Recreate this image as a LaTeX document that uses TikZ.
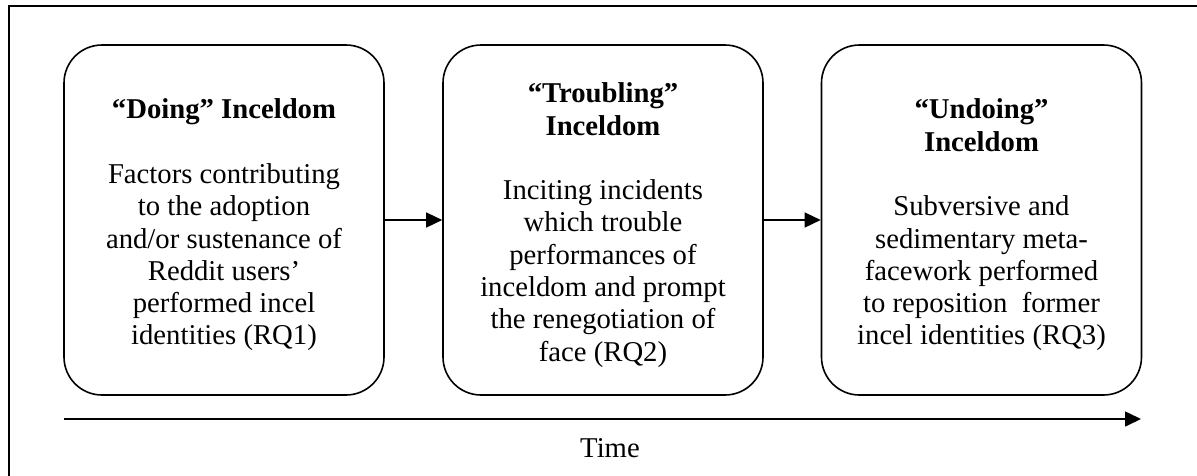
\documentclass[tikz,border=0pt]{standalone}
\usepackage{fontspec}
\setmainfont{Liberation Serif}
\usetikzlibrary{arrows.meta}
\tikzset{
  stage/.style={draw, line width=1.6pt, rounded corners=38pt, minimum width=320pt, minimum height=350pt, inner sep=0pt},
  stagetext/.style={align=center, inner sep=0pt, font=\fontsize{28.7pt}{32.3pt}\selectfont},
  flow/.style={line width=1.4pt, -{Triangle[length=16pt,width=15pt]}},
  frame/.style={line width=2pt}
}
\begin{document}
\begin{tikzpicture}[x=1pt,y=-1pt]
\useasboundingbox (0,0) rectangle (1197,475);
\draw[frame] (9,6) rectangle (1220,500);
\node[stage] (b1) at (224,220) {};
\node[stage] (b2) at (603,220) {};
\node[stage] (b3) at (981.5,220) {};
\node[stagetext] (t1) at (224,225) {\textbf{“Doing” Inceldom}\\[32.3pt]Factors contributing\\to the adoption\\and/or sustenance of\\Reddit users’\\performed incel\\identities (RQ1)};
\node[stagetext] (t2) at (603,225) {\textbf{“Troubling”}\\\textbf{Inceldom}\\[32.3pt]Inciting incidents\\which trouble\\performances of\\inceldom and prompt\\the renegotiation of\\face (RQ2)};
\node[stagetext] (t3) at (981.5,225) {\textbf{“Undoing”}\\\textbf{Inceldom}\\[32.3pt]Subversive and\\sedimentary meta-\\facework performed\\to reposition\ \ former\\incel identities (RQ3)};
\draw[flow] (b1.east) -- (b2.west);
\draw[flow] (b2.east) -- (b3.west);
\coordinate (ta) at (64,419);
\coordinate (tb) at (1141,419);
\draw[flow, line width=1.6pt] (ta) -- (tb);
\node[font=\fontsize{28.7pt}{32.3pt}\selectfont] (time) at (610,448) {Time};
\end{tikzpicture}
\end{document}
